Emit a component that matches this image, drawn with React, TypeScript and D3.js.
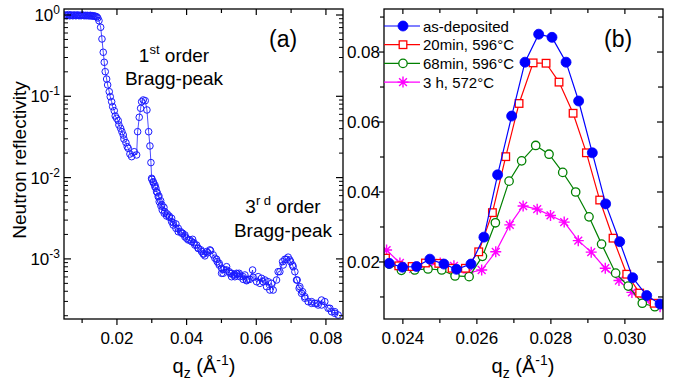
import * as d3 from "d3";

// panel (a): neutron reflectivity vs qz
const reflQ = [
  0.0049, 0.0052, 0.0055, 0.0058, 0.0061, 0.0064, 0.0067, 0.007, 0.0073, 0.0076, 0.0079,
  0.0082, 0.0085, 0.0088, 0.0091, 0.0094, 0.0097, 0.01, 0.0103, 0.0106, 0.0109, 0.0112,
  0.0115, 0.0118, 0.0121, 0.0124, 0.0127, 0.013, 0.0133, 0.0136, 0.0139, 0.0142, 0.0145,
  0.01484, 0.01532, 0.0157, 0.01607, 0.01636, 0.01664, 0.01704, 0.01733, 0.01779, 0.01808,
  0.01848, 0.01877, 0.01923, 0.01951, 0.01991, 0.02037, 0.02057, 0.02106, 0.02143, 0.02181,
  0.02201, 0.02258, 0.02296, 0.02324, 0.02373, 0.02422, 0.02496, 0.02565, 0.02594, 0.0264,
  0.0268, 0.02709, 0.02755, 0.02812, 0.02861, 0.0291, 0.02947, 0.02976, 0.02996, 0.03004,
  0.03042, 0.03042, 0.0309, 0.0309, 0.03119, 0.03139, 0.03156, 0.03185, 0.03205, 0.03214,
  0.03254, 0.03263, 0.03291, 0.033, 0.03349, 0.03357, 0.03377, 0.03426, 0.03443, 0.03501,
  0.03501, 0.0357, 0.0357, 0.03615, 0.03615, 0.03693, 0.03693, 0.03759, 0.03759, 0.03828,
  0.03857, 0.03885, 0.03951, 0.03951, 0.04, 0.04046, 0.04095, 0.04143, 0.04172, 0.04209,
  0.04238, 0.04287, 0.04333, 0.04333, 0.0441, 0.0443, 0.04476, 0.04496, 0.04525, 0.04574,
  0.04603, 0.04669, 0.04689, 0.04763, 0.04812, 0.04861, 0.04878, 0.04935, 0.04935, 0.05004,
  0.05004, 0.0505, 0.0505, 0.05148, 0.05148, 0.05222, 0.05242, 0.05291, 0.05291, 0.05337,
  0.05386, 0.05386, 0.05435, 0.05452, 0.05509, 0.05529, 0.05529, 0.05624, 0.05624, 0.05673,
  0.05722, 0.05722, 0.05768, 0.05816, 0.05894, 0.05911, 0.06009, 0.06055, 0.06103, 0.06152,
  0.06198, 0.06247, 0.06296, 0.06341, 0.0639, 0.06439, 0.06485, 0.06582, 0.06628, 0.06677,
  0.06755, 0.06772, 0.06821, 0.06869, 0.06915, 0.06964, 0.06984, 0.07042, 0.07059, 0.07108,
  0.07156, 0.07174, 0.07231, 0.07251, 0.073, 0.07329, 0.07395, 0.07395, 0.07489, 0.07587,
  0.07587, 0.07681, 0.07747, 0.07776, 0.07874, 0.07874, 0.07968, 0.08063, 0.08112, 0.08161,
  0.08255, 0.08255, 0.0835,
];
const reflR = [
  0.99, 1.0, 0.98, 0.99, 1.01, 0.98, 0.99, 1.0, 0.98, 0.99, 1.0,
  0.98, 0.99, 1.0, 0.98, 0.99, 0.98, 1.0, 0.99, 0.98, 0.99, 0.98,
  0.99, 0.98, 0.98, 0.99, 0.97, 0.98, 0.97, 0.97, 0.96, 0.95, 0.92,
  0.851, 0.706, 0.507, 0.348, 0.262, 0.201, 0.163, 0.138, 0.114, 0.0989,
  0.0858, 0.0745, 0.0665, 0.0573, 0.0536, 0.0501, 0.0444, 0.0404, 0.0367, 0.0334,
  0.0298, 0.0269, 0.024, 0.0229, 0.0195, 0.0181, 0.0208, 0.019, 0.0367, 0.0552,
  0.0712, 0.0858, 0.0901, 0.0883, 0.0679, 0.0367, 0.0245, 0.0153, 0.0098, 0.00953,
  0.0089, 0.00866, 0.00811, 0.00773, 0.00739, 0.0067, 0.00652, 0.00582, 0.00594, 0.00505,
  0.0052, 0.00448, 0.00464, 0.004, 0.00431, 0.00364, 0.00381, 0.00337, 0.00357, 0.00325,
  0.00337, 0.00287, 0.00316, 0.00261, 0.00279, 0.00238, 0.00269, 0.00216, 0.00238, 0.00216,
  0.00207, 0.00207, 0.00187, 0.00197, 0.00179, 0.00171, 0.00171, 0.00163, 0.00174, 0.00158,
  0.00148, 0.00148, 0.00135, 0.00135, 0.00129, 0.00123, 0.00115, 0.00115, 0.00109, 0.00123,
  0.00119, 0.00129, 0.00126, 0.00112, 0.00102, 0.000989, 0.000924, 0.000883, 0.000841, 0.000766,
  0.000665, 0.000665, 0.000745, 0.00073, 0.000802, 0.000696, 0.000665, 0.000604, 0.000665, 0.000634,
  0.000634, 0.000604, 0.000665, 0.000652, 0.000665, 0.000634, 0.000604, 0.000604, 0.000561, 0.000634,
  0.00055, 0.000539, 0.000561, 0.000561, 0.00073, 0.000594, 0.000524, 0.000604, 0.000501, 0.000577,
  0.000524, 0.00055, 0.000455, 0.000524, 0.000414, 0.000501, 0.000414, 0.00055, 0.000696, 0.000696,
  0.000924, 0.000841, 0.000989, 0.000989, 0.00105, 0.00097, 0.000924, 0.000841, 0.000802, 0.000696,
  0.00055, 0.00055, 0.000435, 0.000455, 0.000377, 0.000395, 0.000343, 0.000328, 0.000298, 0.000284,
  0.000298, 0.000284, 0.000284, 0.000271, 0.000312, 0.000271, 0.000298, 0.000247, 0.000247, 0.000224,
  0.000214, 0.000224, 0.000204,
];

// panel (b): first-order Bragg peak after annealing
const depQ = [0.02363, 0.02399, 0.02437, 0.02473, 0.02511, 0.02545, 0.02584, 0.02619, 0.02656, 0.02694, 0.0273, 0.02767, 0.02803, 0.02841, 0.02875, 0.02912, 0.02948, 0.02986, 0.03021, 0.03059, 0.03095];
const depR = [0.0196, 0.0185, 0.0187, 0.0208, 0.0194, 0.0179, 0.0194, 0.0271, 0.0449, 0.0617, 0.0771, 0.0851, 0.0842, 0.0771, 0.066, 0.0512, 0.0366, 0.0258, 0.0155, 0.0104, 0.008];
const m20Q = [0.02353, 0.02389, 0.02425, 0.02461, 0.02497, 0.02533, 0.02569, 0.02605, 0.02642, 0.02678, 0.02714, 0.02752, 0.02787, 0.02822, 0.0286, 0.02896, 0.02932, 0.02968, 0.03005, 0.0304, 0.03079];
const m20R = [0.0211, 0.0189, 0.0187, 0.0197, 0.0196, 0.0182, 0.0182, 0.0229, 0.0341, 0.0501, 0.0653, 0.0769, 0.0768, 0.0714, 0.0625, 0.0512, 0.0377, 0.0268, 0.0165, 0.0111, 0.0082];
const m68Q = [0.02363, 0.02396, 0.02432, 0.02468, 0.02505, 0.02541, 0.02579, 0.02615, 0.0265, 0.02687, 0.02721, 0.02759, 0.02795, 0.02832, 0.02867, 0.02903, 0.02937, 0.02975, 0.03009, 0.03047, 0.03081];
const m68R = [0.0194, 0.0176, 0.0177, 0.018, 0.0177, 0.016, 0.0158, 0.0216, 0.0312, 0.0431, 0.0489, 0.0533, 0.0508, 0.0456, 0.04, 0.0329, 0.0251, 0.0168, 0.0131, 0.0082, 0.0072];
const h3Q = [0.02356, 0.02392, 0.02428, 0.02465, 0.02501, 0.02538, 0.02576, 0.02613, 0.02651, 0.02689, 0.02725, 0.02763, 0.02799, 0.02836, 0.02874, 0.02909, 0.02947, 0.02984, 0.03019, 0.03057, 0.03095];
const h3R = [0.0234, 0.0197, 0.018, 0.0189, 0.0197, 0.0189, 0.0169, 0.0177, 0.0229, 0.0306, 0.036, 0.0351, 0.0333, 0.0314, 0.0261, 0.0228, 0.0182, 0.0147, 0.0113, 0.0091, 0.0072];

const seriesB = [
  { name: "as-deposited", q: depQ, r: depR, color: "#0000ff", mark: "dot" },
  { name: "20min, 596°C", q: m20Q, r: m20R, color: "#ff0000", mark: "square" },
  { name: "68min, 596°C", q: m68Q, r: m68R, color: "#008000", mark: "ring" },
  { name: "3 h, 572°C", q: h3Q, r: h3R, color: "#ff00ff", mark: "star" },
];

const xTicksA = [0.02, 0.04, 0.06, 0.08];
const xMinorA = [0.01, 0.03, 0.05, 0.07];
const yExpA = [0, -1, -2, -3];
const xTicksB = [0.024, 0.026, 0.028, 0.03];
const xMinorB = [0.025, 0.027, 0.029];
const yTicksB = [0.02, 0.04, 0.06, 0.08];
const yMinorB = [0.01, 0.03, 0.05, 0.07, 0.09];

const FONT = "'Liberation Sans', Arial, Helvetica, sans-serif";

const A = { left: 64, right: 343, top: 9, bottom: 319 };
const B = { left: 384, right: 663, top: 9, bottom: 319 };

const xA = d3.scaleLinear().domain([0.0048, 0.0849]).range([A.left, A.right]);
const yA = d3.scaleLog().domain([1.823e-4, 1.185]).range([A.bottom, A.top]);
const xB = d3.scaleLinear().domain([0.02349, 0.03103]).range([B.left, B.right]);
const yB = d3.scaleLinear().domain([0.0037, 0.0923]).range([B.bottom, B.top]);

function Marker({ kind, color, x, y }: { kind: string; color: string; x: number; y: number }) {
  if (kind === "dot") return <circle cx={x} cy={y} r={5} fill={color} stroke={color} strokeWidth={0.8} />;
  if (kind === "square")
    return <rect x={x - 3.8} y={y - 3.8} width={7.6} height={7.6} fill="#fff" stroke={color} strokeWidth={1.3} />;
  if (kind === "ring") return <circle cx={x} cy={y} r={4.2} fill="#fff" stroke={color} strokeWidth={1.3} />;
  const a = 5.5, d = 3.9;
  return (
    <path
      d={`M${x - a},${y}H${x + a}M${x},${y - a}V${y + a}M${x - d},${y - d}L${x + d},${y + d}M${x - d},${y + d}L${x + d},${y - d}`}
      stroke={color}
      strokeWidth={1.4}
      fill="none"
    />
  );
}

function AxisTitle({ x }: { x: number }) {
  return (
    <text x={x} y={373} textAnchor="middle" fontSize={20}>
      q<tspan dy={5} fontSize={14}>z</tspan>
      <tspan dy={-5}> (Å</tspan>
      <tspan dy={-8} fontSize={14}>-1</tspan>
      <tspan dy={8}>)</tspan>
    </text>
  );
}

function PanelA() {
  const pts = d3.sort(
    reflQ.map((q, i) => ({ q, r: reflR[i] })),
    (d) => d.q
  );
  const line = d3.line<{ q: number; r: number }>().x((d) => xA(d.q)).y((d) => yA(d.r));
  const minors: number[] = [];
  for (const e of [-4, -3, -2, -1, 0]) for (let k = 2; k <= 9; k++) {
    const v = k * Math.pow(10, e);
    if (v > yA.domain()[0] && v < yA.domain()[1]) minors.push(v);
  }
  return (
    <g>
      <defs>
        <clipPath id="clipA">
          <rect x={A.left} y={A.top} width={A.right - A.left} height={A.bottom - A.top} />
        </clipPath>
      </defs>
      <g clipPath="url(#clipA)">
        <path d={line(pts) ?? ""} fill="none" stroke="#0000ff" strokeWidth={0.7} />
        {pts.map((d, i) => (
          <circle key={i} cx={xA(d.q)} cy={yA(d.r)} r={3.3} fill="none" stroke="#1a1aff" strokeWidth={1} />
        ))}
      </g>
      <rect x={A.left} y={A.top} width={A.right - A.left} height={A.bottom - A.top} fill="none" stroke="#000" strokeWidth={1.3} />
      {xTicksA.map((t) => (
        <g key={t}>
          <line x1={xA(t)} x2={xA(t)} y1={A.bottom} y2={A.bottom + 6} stroke="#000" strokeWidth={1.2} />
          <line x1={xA(t)} x2={xA(t)} y1={A.top} y2={A.top + 6} stroke="#000" strokeWidth={1.2} />
          <text x={xA(t)} y={344} textAnchor="middle" fontSize={17}>{d3.format(".2f")(t)}</text>
        </g>
      ))}
      {xMinorA.map((t) => (
        <g key={t}>
          <line x1={xA(t)} x2={xA(t)} y1={A.bottom} y2={A.bottom + 4} stroke="#000" strokeWidth={1.2} />
          <line x1={xA(t)} x2={xA(t)} y1={A.top} y2={A.top + 4} stroke="#000" strokeWidth={1.2} />
        </g>
      ))}
      {yExpA.map((e) => {
        const y = yA(Math.pow(10, e));
        return (
          <g key={e}>
            <line x1={A.left} x2={A.left + 7} y1={y} y2={y} stroke="#000" strokeWidth={1.2} />
            <line x1={A.right} x2={A.right - 7} y1={y} y2={y} stroke="#000" strokeWidth={1.2} />
            <text x={60} y={y + 6} textAnchor="end" fontSize={17}>
              10<tspan dy={-7} fontSize={12}>{e === 0 ? "0" : `${e}`}</tspan>
            </text>
          </g>
        );
      })}
      {minors.map((v) => (
        <g key={v}>
          <line x1={A.left} x2={A.left + 4} y1={yA(v)} y2={yA(v)} stroke="#000" strokeWidth={1} />
          <line x1={A.right} x2={A.right - 4} y1={yA(v)} y2={yA(v)} stroke="#000" strokeWidth={1} />
        </g>
      ))}
      <text transform="translate(26,160) rotate(-90)" textAnchor="middle" fontSize={19}>Neutron reflectivity</text>
      <AxisTitle x={204} />
      <text x={269} y={47} fontSize={23}>(a)</text>
      <text x={174} y={62} textAnchor="middle" fontSize={19}>
        1<tspan dy={-8} fontSize={13}>st</tspan>
        <tspan dy={8}> order</tspan>
      </text>
      <text x={174} y={85} textAnchor="middle" fontSize={19}>Bragg-peak</text>
      <text x={283} y={213} textAnchor="middle" fontSize={19}>
        3<tspan dy={-8} fontSize={13}>r d</tspan>
        <tspan dy={8}> order</tspan>
      </text>
      <text x={283} y={237} textAnchor="middle" fontSize={19}>Bragg-peak</text>
    </g>
  );
}

function PanelB() {
  return (
    <g>
      <defs>
        <clipPath id="clipB">
          <rect x={B.left} y={B.top} width={B.right - B.left} height={B.bottom - B.top} />
        </clipPath>
      </defs>
      <g clipPath="url(#clipB)">
        {[...seriesB].reverse().map((s) => {
          const pts = s.q.map((q, i) => [xB(q), yB(s.r[i])] as [number, number]);
          return (
            <g key={s.name}>
              <path d={d3.line()(pts) ?? ""} fill="none" stroke={s.color} strokeWidth={1.2} />
              {pts.map((p, i) => (
                <Marker key={i} kind={s.mark} color={s.color} x={p[0]} y={p[1]} />
              ))}
            </g>
          );
        })}
      </g>
      <rect x={B.left} y={B.top} width={B.right - B.left} height={B.bottom - B.top} fill="none" stroke="#000" strokeWidth={1.3} />
      {xTicksB.map((t) => (
        <g key={t}>
          <line x1={xB(t)} x2={xB(t)} y1={B.bottom} y2={B.bottom + 5} stroke="#000" strokeWidth={1.2} />
          <line x1={xB(t)} x2={xB(t)} y1={B.top} y2={B.top + 5} stroke="#000" strokeWidth={1.2} />
          <text x={xB(t)} y={344} textAnchor="middle" fontSize={17}>{d3.format(".3f")(t)}</text>
        </g>
      ))}
      {xMinorB.map((t) => (
        <g key={t}>
          <line x1={xB(t)} x2={xB(t)} y1={B.bottom} y2={B.bottom + 4} stroke="#000" strokeWidth={1.2} />
          <line x1={xB(t)} x2={xB(t)} y1={B.top} y2={B.top + 4} stroke="#000" strokeWidth={1.2} />
        </g>
      ))}
      {yTicksB.map((t) => (
        <g key={t}>
          <line x1={B.left} x2={B.left - 5} y1={yB(t)} y2={yB(t)} stroke="#000" strokeWidth={1.2} />
          <line x1={B.right} x2={B.right - 6} y1={yB(t)} y2={yB(t)} stroke="#000" strokeWidth={1.2} />
          <text x={380} y={yB(t) + 6} textAnchor="end" fontSize={17}>{d3.format(".2f")(t)}</text>
        </g>
      ))}
      {yMinorB.map((t) => (
        <g key={t}>
          <line x1={B.left} x2={B.left - 4} y1={yB(t)} y2={yB(t)} stroke="#000" strokeWidth={1.2} />
          <line x1={B.right} x2={B.right - 5} y1={yB(t)} y2={yB(t)} stroke="#000" strokeWidth={1.2} />
        </g>
      ))}
      <AxisTitle x={523} />
      <text x={604} y={47} fontSize={23}>(b)</text>
      {seriesB.map((s, i) => {
        const y = 26 + i * 18.7;
        return (
          <g key={s.name}>
            <line x1={384} x2={420} y1={y} y2={y} stroke={s.color} strokeWidth={1.2} />
            <Marker kind={s.mark} color={s.color} x={403} y={y} />
            <text x={423} y={y + 5.5} fontSize={15}>{s.name}</text>
          </g>
        );
      })}
    </g>
  );
}

export default function App() {
  return (
    <div style={{ position: "fixed", left: 0, top: 0, background: "#fff" }}>
      <svg width={675} height={381} fontFamily={FONT} style={{ display: "block" }}>
        <rect width={675} height={381} fill="#fff" />
        <PanelA />
        <PanelB />
      </svg>
    </div>
  );
}
